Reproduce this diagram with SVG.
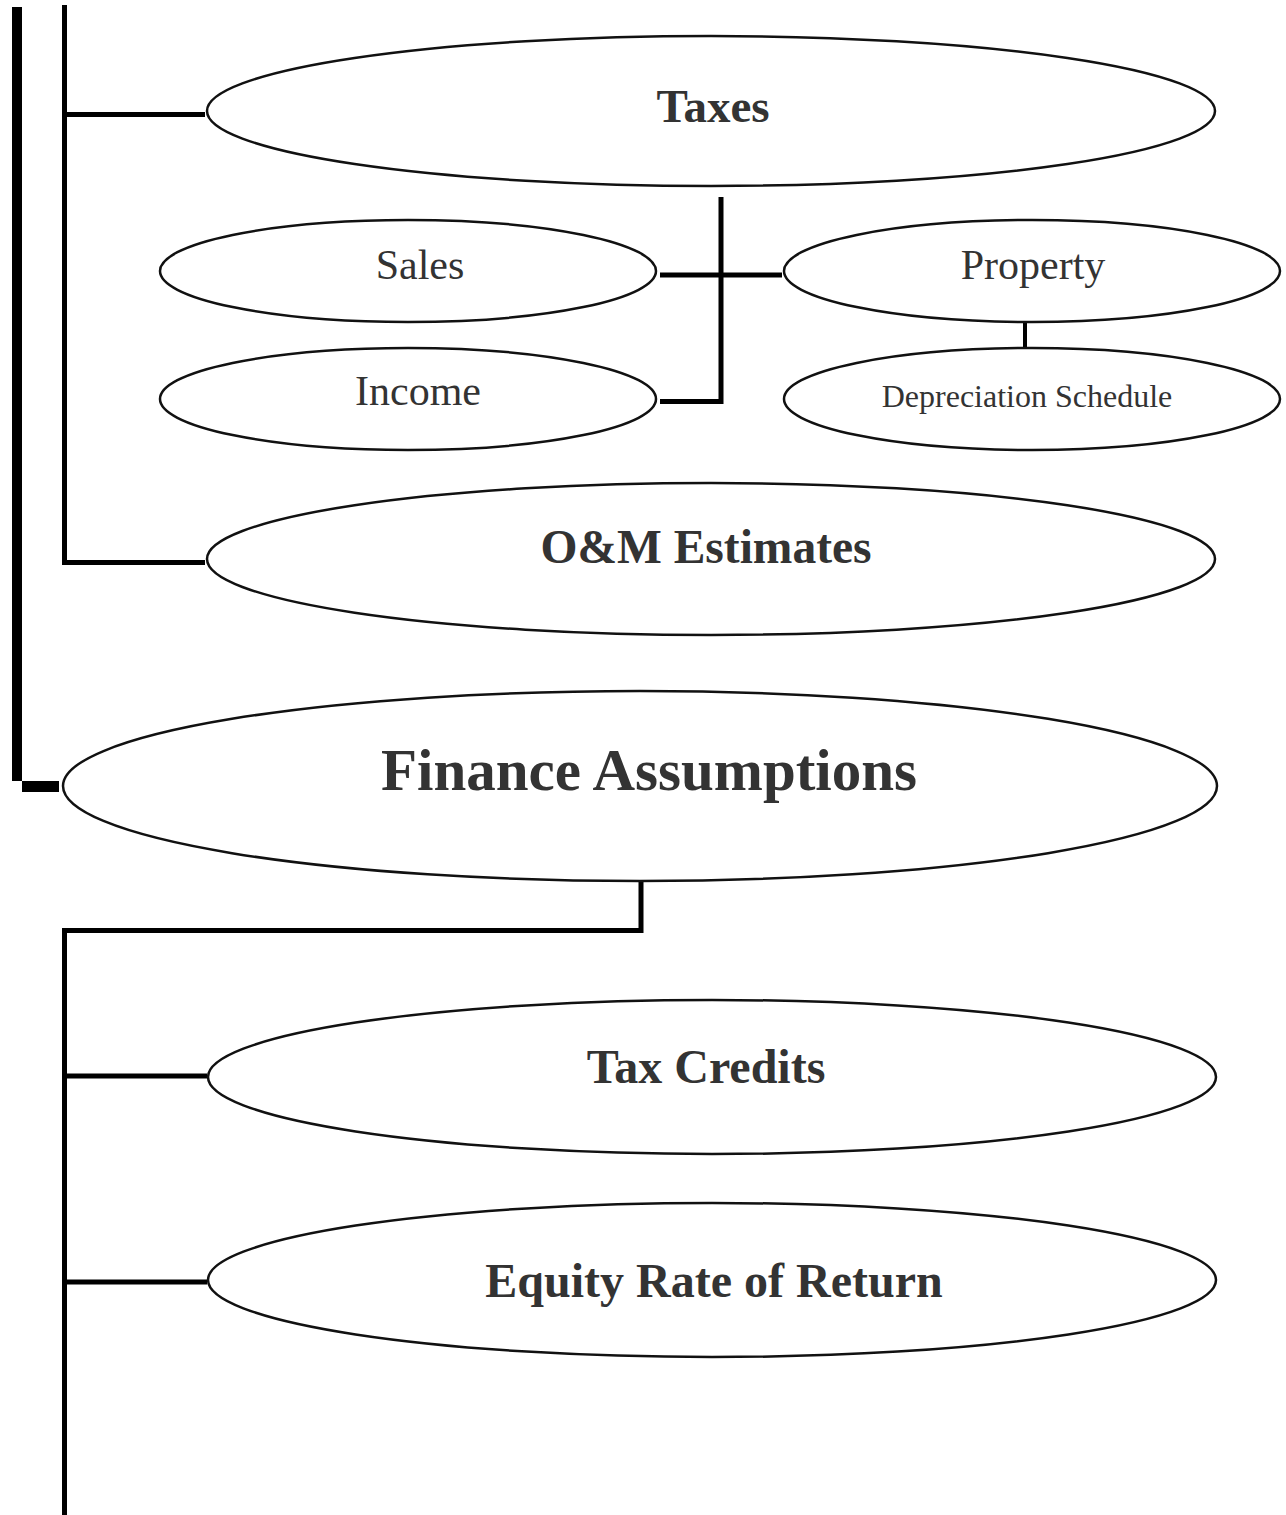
<svg xmlns="http://www.w3.org/2000/svg" width="1286" height="1515" viewBox="0 0 1286 1515">
<style>
.n{fill:#fff;stroke:#111;stroke-width:2.5}
.c{stroke:#000;fill:none;stroke-linecap:butt}
.t{font-family:"Liberation Serif","Times New Roman",serif;fill:#333;text-anchor:middle}
.b{font-weight:bold}
</style>
<rect width="1286" height="1515" fill="#fff"/>
<g id="connectors">
<rect x="12" y="7" width="10" height="774" fill="#000"/>
<rect x="22" y="781" width="37" height="11" fill="#000"/>
<line class="c" x1="64.5" y1="5" x2="64.5" y2="565" stroke-width="5"/>
<line class="c" x1="64" y1="114.5" x2="205" y2="114.5" stroke-width="5"/>
<line class="c" x1="64" y1="562.5" x2="205" y2="562.5" stroke-width="5"/>
<line class="c" x1="721" y1="197" x2="721" y2="404" stroke-width="5"/>
<line class="c" x1="660" y1="275" x2="782" y2="275" stroke-width="5"/>
<line class="c" x1="660" y1="401.5" x2="723" y2="401.5" stroke-width="5"/>
<line class="c" x1="1025" y1="322" x2="1025" y2="348" stroke-width="4"/>
<polyline class="c" points="641,882 641,930.5 64.5,930.5 64.5,1515" stroke-width="5"/>
<line class="c" x1="64" y1="1076" x2="207" y2="1076" stroke-width="5"/>
<line class="c" x1="64" y1="1282" x2="207" y2="1282" stroke-width="5"/>
</g>
<g id="taxes">
<ellipse class="n" cx="711" cy="111" rx="504" ry="75"/>
<text class="t b" x="713" y="122" font-size="47">Taxes</text>
</g>
<g id="sales">
<ellipse class="n" cx="408" cy="271" rx="248" ry="51"/>
<text class="t" x="420" y="279" font-size="42">Sales</text>
</g>
<g id="property">
<ellipse class="n" cx="1032" cy="271" rx="248" ry="51"/>
<text class="t" x="1033" y="279" font-size="42">Property</text>
</g>
<g id="income">
<ellipse class="n" cx="408" cy="399" rx="248" ry="51"/>
<text class="t" x="418" y="405" font-size="42">Income</text>
</g>
<g id="depreciation">
<ellipse class="n" cx="1032" cy="399" rx="248" ry="51"/>
<text class="t" x="1027" y="407" font-size="32">Depreciation Schedule</text>
</g>
<g id="om">
<ellipse class="n" cx="711" cy="559" rx="504" ry="76"/>
<text class="t b" x="706" y="563" font-size="47.5">O&amp;M Estimates</text>
</g>
<g id="finance">
<ellipse class="n" cx="640" cy="786" rx="577" ry="95"/>
<text class="t b" x="649" y="790" font-size="59">Finance Assumptions</text>
</g>
<g id="taxcredits">
<ellipse class="n" cx="712" cy="1077" rx="504" ry="77"/>
<text class="t b" x="706" y="1083" font-size="48">Tax Credits</text>
</g>
<g id="equity">
<ellipse class="n" cx="712" cy="1280" rx="504" ry="77"/>
<text class="t b" x="714" y="1297" font-size="48">Equity Rate of Return</text>
</g>
</svg>
